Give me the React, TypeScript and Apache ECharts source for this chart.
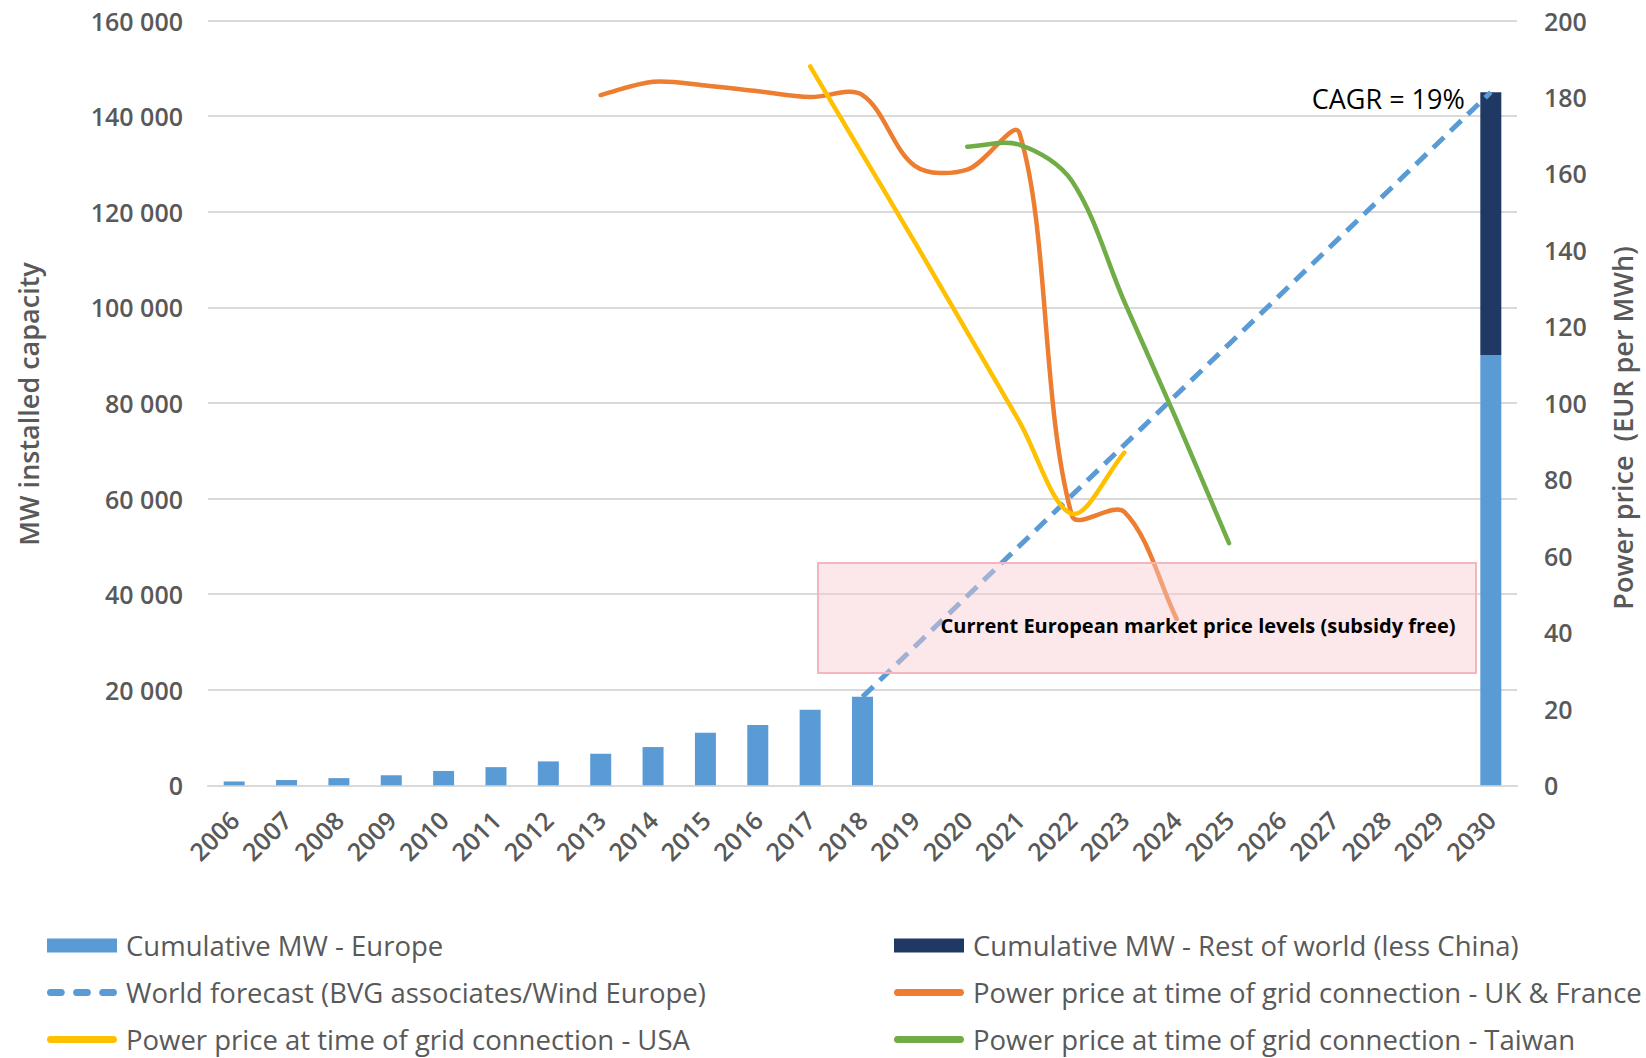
import React, { useEffect, useRef } from 'react';
import * as echarts from 'echarts';

const years = [
  '2006', '2007', '2008', '2009', '2010', '2011', '2012', '2013', '2014', '2015', '2016', '2017', '2018',
  '2019', '2020', '2021', '2022', '2023', '2024', '2025', '2026', '2027', '2028', '2029', '2030',
];

// Cumulative MW (left axis)
const europeMW = [
  800, 1100, 1500, 2100, 3000, 3800, 5000, 6600, 8000, 11000, 12600, 15800, 18500,
  null, null, null, null, null, null, null, null, null, null, null, 90000,
];
const restOfWorldMW = [
  null, null, null, null, null, null, null, null, null, null, null, null, null,
  null, null, null, null, null, null, null, null, null, null, null, 55000,
];
const worldForecastMW = [
  null, null, null, null, null, null, null, null, null, null, null, null, 18500,
  null, null, null, null, null, null, null, null, null, null, null, 145000,
];

// Power price, EUR per MWh (right axis)
const priceUKFrance = [
  null, null, null, null, null, null, null, 180.5, 184, 183, 181.5, 180, 180.5,
  162, 161, 170.5, 70.5, 71.5, 43.5, null, null, null, null, null, null,
];
const priceUSA = [
  null, null, null, null, null, null, null, null, null, null, null, 188, 165,
  142, 118.5, 95, 71, 87, null, null, null, null, null, null, null,
];
const priceTaiwan = [
  null, null, null, null, null, null, null, null, null, null, null, null, null,
  null, 167, 167.5, 158, 126.5, 95.5, 63.3, null, null, null, null, null,
];

const leftTicks = { min: 0, max: 160000, interval: 20000 };
const rightTicks = { min: 0, max: 200, interval: 20 };

const NAMES = {
  europe: 'Cumulative MW - Europe',
  row: 'Cumulative MW - Rest of world (less China)',
  forecast: 'World forecast (BVG associates/Wind Europe)',
  uk: 'Power price at time of grid connection - UK & France',
  usa: 'Power price at time of grid connection - USA',
  taiwan: 'Power price at time of grid connection - Taiwan',
};

const FONT = "'Open Sans', 'Noto Sans', sans-serif";
const GREY = '#595959';

const lineIcon = 'path://M3.5 0H66.5C71 0 71 7 66.5 7H3.5C-1 7 -1 0 3.5 0Z';
const dashIcon =
  'path://M3.5 0H14.5C19 0 19 7 14.5 7H3.5C-1 7 -1 0 3.5 0Z' +
  'M29.5 0H40.5C45 0 45 7 40.5 7H29.5C25 7 25 0 29.5 0Z' +
  'M55.5 0H66.5C71 0 71 7 66.5 7H55.5C51 7 51 0 55.5 0Z';

const fmtThousands = (v: number) => String(v).replace(/\B(?=(\d{3})+(?!\d))/g, ' ');

// [categoryIndex, value] pairs of the non-empty points of a series
const toPoints = (arr: (number | null)[]) =>
  arr.map((v, i) => (v == null ? null : [i, v])).filter((p) => p != null) as number[][];

// Spreadsheet-style smoothing: tangent = next - prev, split by segment lengths
function ctrl(pts: number[][], i: number, out: boolean): number[] {
  const s = 1 / 3;
  const cur = pts[i];
  const prev = pts[i - 1] || cur;
  const next = pts[i + 1] || cur;
  const d0 = Math.hypot(cur[0] - prev[0], cur[1] - prev[1]);
  const d1 = Math.hypot(next[0] - cur[0], next[1] - cur[1]);
  const tot = d0 + d1;
  if (tot === 0) return cur;
  const vx = next[0] - prev[0];
  const vy = next[1] - prev[1];
  const k = out ? (s * d1) / tot : (-s * d0) / tot;
  return [cur[0] + vx * k, cur[1] + vy * k];
}

function smoothPath(pts: number[][]): string {
  if (pts.length < 2) return '';
  let d = `M${pts[0][0]},${pts[0][1]}`;
  for (let i = 0; i < pts.length - 1; i++) {
    const c1 = ctrl(pts, i, true);
    const c2 = ctrl(pts, i + 1, false);
    const p2 = pts[i + 1];
    d += ` C${c1[0]},${c1[1]} ${c2[0]},${c2[1]} ${p2[0]},${p2[1]}`;
  }
  return d;
}

function priceSeries(name: string, values: (number | null)[], color: string) {
  const points = toPoints(values);
  return {
    name,
    type: 'custom',
    yAxisIndex: 1,
    itemStyle: { color },
    data: points,
    z: 4,
    renderItem: (params: any, api: any) => {
      if (params.dataIndex !== 0) return null;
      const px = points.map((p) => api.coord(p));
      return {
        type: 'path',
        shape: { pathData: smoothPath(px) },
        style: { fill: 'none', stroke: color, lineWidth: 4.5, lineCap: 'round', lineJoin: 'round' },
      };
    },
  };
}

const legendBase = {
  orient: 'vertical',
  padding: 0,
  itemWidth: 70,
  itemHeight: 14,
  itemGap: 18,
  top: 931,
  textStyle: { color: GREY, fontSize: 27.5, fontFamily: FONT, lineHeight: 29, padding: [0, 0, 0, 4] },
};

const axisLabelFont = { color: GREY, fontSize: 25, fontWeight: 600, fontFamily: FONT };

export default function App() {
  const ref = useRef<HTMLDivElement>(null);
  useEffect(() => {
    const chart = echarts.init(ref.current!, null, { renderer: 'svg' });
    const option: any = {
      animation: false,
      backgroundColor: '#ffffff',
      textStyle: { fontFamily: FONT },
      grid: { left: 208, right: 129, top: 20.5, bottom: 272.7 },
      legend: [
        {
          ...legendBase,
          left: 47,
          data: [
            { name: NAMES.europe, icon: 'rect' },
            { name: NAMES.forecast, icon: dashIcon },
            { name: NAMES.usa, icon: lineIcon },
          ],
        },
        {
          ...legendBase,
          left: 894,
          data: [
            { name: NAMES.row, icon: 'rect' },
            { name: NAMES.uk, icon: lineIcon },
            { name: NAMES.taiwan, icon: lineIcon },
          ],
        },
      ],
      xAxis: {
        type: 'category',
        data: years,
        axisLine: { lineStyle: { color: '#D9D9D9', width: 2 } },
        axisTick: { show: false },
        axisLabel: { ...axisLabelFont, rotate: 45, interval: 0, margin: 30 },
      },
      yAxis: [
        {
          type: 'value',
          ...leftTicks,
          axisLine: { show: false },
          axisTick: { show: false },
          splitLine: { lineStyle: { color: '#D9D9D9', width: 2 } },
          axisLabel: { ...axisLabelFont, margin: 25, formatter: fmtThousands },
        },
        {
          type: 'value',
          ...rightTicks,
          position: 'right',
          axisLine: { show: false },
          axisTick: { show: false },
          splitLine: { show: false },
          axisLabel: { ...axisLabelFont, margin: 27 },
        },
      ],
      series: [
        {
          name: NAMES.europe,
          type: 'bar',
          stack: 'mw',
          barWidth: 21,
          itemStyle: { color: '#5B9BD5' },
          data: europeMW,
        },
        {
          name: NAMES.row,
          type: 'bar',
          stack: 'mw',
          barWidth: 21,
          itemStyle: { color: '#203864' },
          data: restOfWorldMW,
        },
        {
          name: NAMES.forecast,
          type: 'line',
          connectNulls: true,
          symbol: 'none',
          itemStyle: { color: '#5B9BD5' },
          lineStyle: { color: '#5B9BD5', width: 5, type: [15, 9] },
          data: worldForecastMW,
          z: 3,
          markPoint: {
            symbol: 'circle',
            symbolSize: 2,
            itemStyle: { color: 'rgba(0,0,0,0)' },
            data: [
              {
                coord: [years.length - 1, worldForecastMW[worldForecastMW.length - 1]],
                label: {
                  show: true,
                  position: 'left',
                  distance: 25,
                  offset: [0, 6],
                  formatter: 'CAGR = 19%',
                  color: '#000000',
                  fontSize: 27,
                  fontFamily: FONT,
                },
              },
            ],
          },
        },
        priceSeries(NAMES.uk, priceUKFrance, '#ED7D31'),
        priceSeries(NAMES.usa, priceUSA, '#FFC000'),
        priceSeries(NAMES.taiwan, priceTaiwan, '#70AD47'),
      ],
      graphic: [
        {
          type: 'rect',
          z: 100,
          shape: { x: 818, y: 563, width: 658, height: 110 },
          style: { fill: 'rgba(248,203,208,0.45)', stroke: '#F4B6BE', lineWidth: 2 },
        },
        {
          type: 'text',
          z: 101,
          x: 1198,
          y: 625,
          style: {
            text: 'Current European market price levels (subsidy free)',
            font: `bold 20px ${FONT}`,
            fill: '#000000',
            align: 'center',
            verticalAlign: 'middle',
          },
        },
        {
          type: 'text',
          z: 101,
          x: 28,
          y: 404,
          rotation: Math.PI / 2,
          style: {
            text: 'MW installed capacity',
            font: `600 27px ${FONT}`,
            fill: GREY,
            align: 'center',
            verticalAlign: 'middle',
          },
        },
        {
          type: 'text',
          z: 101,
          x: 1622,
          y: 428,
          rotation: Math.PI / 2,
          style: {
            text: 'Power price  (EUR per MWh)',
            font: `600 27px ${FONT}`,
            fill: GREY,
            align: 'center',
            verticalAlign: 'middle',
          },
        },
      ],
    };
    chart.setOption(option);
    return () => chart.dispose();
  }, []);
  return (
    <div
      ref={ref}
      style={{ position: 'absolute', left: 0, top: 0, width: 1646, height: 1058, background: '#ffffff' }}
    />
  );
}
